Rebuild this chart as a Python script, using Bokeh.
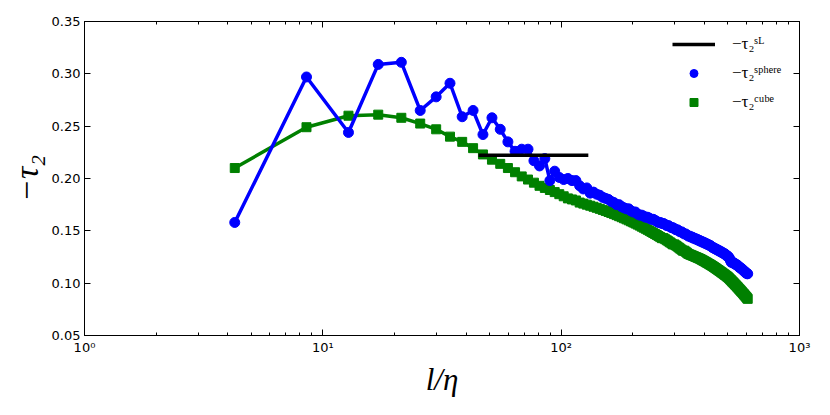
from bokeh.plotting import figure
from bokeh.models import (FixedTicker, LogAxis, LinearAxis, Legend, LegendItem,
                          PrintfTickFormatter, Range1d)
from bokeh.embed import file_html
from bokeh.resources import INLINE

# separation l/eta
l_eta = [4.27, 8.54, 12.81, 17.08, 21.35, 25.62, 29.89, 34.16, 38.43, 42.7,
         46.97, 51.24, 55.51, 59.78, 64.05, 68.32, 72.59, 76.86, 81.13, 85.4,
         89.67, 93.94, 98.21, 102.48, 106.75, 111.02, 115.29, 119.56, 123.83, 128.1,
         132.37, 136.64, 140.91, 145.18, 149.45, 153.72, 157.99, 162.26, 166.53, 170.8,
         175.07, 179.34, 183.61, 187.88, 192.15, 196.42, 200.69, 204.96, 209.23, 213.5,
         217.77, 222.04, 226.31, 230.58, 234.85, 239.12, 243.39, 247.66, 251.93, 256.2,
         260.47, 264.74, 269.01, 273.28, 277.55, 281.82, 286.09, 290.36, 294.63, 298.9,
         303.17, 307.44, 311.71, 315.98, 320.25, 324.52, 328.79, 333.06, 337.33, 341.6,
         345.87, 350.14, 354.41, 358.68, 362.95, 367.22, 371.49, 375.76, 380.03, 384.3,
         388.57, 392.84, 397.11, 401.38, 405.65, 409.92, 414.19, 418.46, 422.73, 427.0,
         431.27, 435.54, 439.81, 444.08, 448.35, 452.62, 456.89, 461.16, 465.43, 469.7,
         473.97, 478.24, 482.51, 486.78, 491.05, 495.32, 499.59, 503.86, 508.13, 512.4,
         516.67, 520.94, 525.21, 529.48, 533.75, 538.02, 542.29, 546.56, 550.83, 555.1,
         559.37, 563.64, 567.91, 572.18, 576.45, 580.72, 584.99, 589.26, 593.53, 597.8,
         602.07, 606.34]

tau_sphere = [0.158, 0.297, 0.244, 0.309, 0.311, 0.265, 0.278, 0.291, 0.259, 0.265,
              0.242, 0.258, 0.247, 0.235, 0.226, 0.228, 0.228, 0.217, 0.212, 0.219,
              0.198, 0.207, 0.201, 0.199, 0.200, 0.198, 0.198, 0.193, 0.190, 0.191,
              0.186, 0.187, 0.185, 0.184, 0.182, 0.181, 0.180, 0.178, 0.177, 0.175,
              0.175, 0.173, 0.172, 0.171, 0.171, 0.169, 0.168, 0.168, 0.166, 0.165,
              0.165, 0.164, 0.163, 0.163, 0.162, 0.161, 0.161, 0.160, 0.159, 0.158,
              0.158, 0.157, 0.157, 0.156, 0.155, 0.155, 0.154, 0.153, 0.153, 0.152,
              0.151, 0.151, 0.150, 0.149, 0.149, 0.148, 0.147, 0.147, 0.146, 0.145,
              0.145, 0.144, 0.144, 0.143, 0.143, 0.142, 0.142, 0.141, 0.141, 0.140,
              0.140, 0.139, 0.139, 0.138, 0.138, 0.137, 0.137, 0.136, 0.136, 0.135,
              0.134, 0.134, 0.133, 0.133, 0.132, 0.132, 0.131, 0.131, 0.130, 0.130,
              0.129, 0.129, 0.128, 0.128, 0.127, 0.126, 0.126, 0.125, 0.124, 0.122,
              0.120, 0.120, 0.120, 0.119, 0.119, 0.118, 0.118, 0.117, 0.117, 0.116,
              0.115, 0.115, 0.114, 0.114, 0.113, 0.112, 0.112, 0.111, 0.110, 0.110,
              0.109, 0.109]

tau_cube = [0.210, 0.249, 0.260, 0.261, 0.258, 0.2525, 0.247, 0.240, 0.235, 0.229,
            0.223, 0.218, 0.214, 0.210, 0.206, 0.202, 0.199, 0.196, 0.193, 0.191,
            0.189, 0.187, 0.185, 0.183, 0.181, 0.180, 0.179, 0.177, 0.176, 0.175,
            0.174, 0.173, 0.172, 0.171, 0.170, 0.169, 0.168, 0.167, 0.166, 0.165,
            0.164, 0.163, 0.162, 0.161, 0.160, 0.159, 0.158, 0.157, 0.156, 0.155,
            0.154, 0.153, 0.152, 0.151, 0.150, 0.149, 0.148, 0.147, 0.146, 0.145,
            0.144, 0.143, 0.143, 0.142, 0.141, 0.140, 0.139, 0.138, 0.137, 0.137,
            0.136, 0.135, 0.134, 0.133, 0.132, 0.131, 0.131, 0.130, 0.129, 0.128,
            0.1275, 0.127, 0.1265, 0.126, 0.1255, 0.125, 0.1245, 0.124, 0.1235, 0.123,
            0.1224, 0.1218, 0.1212, 0.1206, 0.120, 0.1194, 0.1188, 0.1182, 0.1176, 0.117,
            0.1164, 0.1157, 0.1151, 0.1144, 0.1138, 0.1131, 0.1125, 0.1118, 0.1112, 0.1105,
            0.1099, 0.1092, 0.1086, 0.1079, 0.1073, 0.1066, 0.106, 0.1052, 0.1044, 0.1035,
            0.1027, 0.1018, 0.101, 0.1002, 0.0993, 0.0985, 0.0977, 0.0968, 0.096, 0.0951,
            0.0943, 0.0935, 0.0926, 0.0918, 0.091, 0.0901, 0.0893, 0.0884, 0.0876, 0.0868,
            0.0859, 0.085]

sl_l = [45.0, 130.0]
sl_tau = [0.2222, 0.2222]

x_major = [1, 10, 100, 1000]
x_minor = [2, 3, 4, 5, 6, 7, 8, 9, 20, 30, 40, 50, 60, 70, 80, 90,
           200, 300, 400, 500, 600, 700, 800, 900]
x_labels = {1: "10⁰", 10: "10¹", 100: "10²", 1000: "10³"}
y_ticks = [0.05, 0.10, 0.15, 0.20, 0.25, 0.30, 0.35]

p = figure(width=814, height=399, x_axis_type="log",
           x_range=Range1d(1, 1000), y_range=Range1d(0.05, 0.35),
           output_backend="svg", toolbar_location=None,
           min_border_left=84, min_border_right=15,
           min_border_top=21, min_border_bottom=62)
p.xgrid.visible = False
p.ygrid.visible = False
p.outline_line_color = "black"
p.outline_line_width = 1
p.outline_line_alpha = 1

xt = FixedTicker(ticks=x_major, minor_ticks=x_minor)
yt = FixedTicker(ticks=y_ticks)

tick_font = "DejaVu Sans"
for ax in p.xaxis:
    ax.ticker = xt
    ax.major_label_overrides = x_labels
for ax in p.yaxis:
    ax.ticker = yt
    ax.formatter = PrintfTickFormatter(format="%.2f")

for ax in list(p.xaxis) + list(p.yaxis):
    ax.major_tick_in = 6
    ax.major_tick_out = 0
    ax.minor_tick_in = 3
    ax.minor_tick_out = 0
    ax.axis_line_color = "black"
    ax.major_tick_line_color = "black"
    ax.minor_tick_line_color = "black"
    ax.major_label_text_font = tick_font
    ax.major_label_text_font_size = "13px"
    ax.major_label_text_color = "black"
    ax.major_label_standoff = 4
    ax.axis_label_text_color = "black"
for ax in p.yaxis:
    ax.minor_tick_in = 0

p.xaxis.axis_label = "l/η"
p.xaxis.axis_label_text_font = "Liberation Serif"
p.xaxis.axis_label_text_font_style = "italic"
p.xaxis.axis_label_text_font_size = "31px"
p.xaxis.axis_label_standoff = 4

p.yaxis.axis_label = "−τ₂"
p.yaxis.axis_label_text_font = "Liberation Serif"
p.yaxis.axis_label_text_font_style = "italic"
p.yaxis.axis_label_text_font_size = "34px"
p.yaxis.axis_label_standoff = 4

top = LogAxis(ticker=xt, major_label_text_font_size="1px", major_label_text_alpha=0,
              major_label_standoff=0,
              major_tick_in=6, major_tick_out=0, minor_tick_in=3, minor_tick_out=0)
right = LinearAxis(ticker=yt, major_label_text_font_size="1px", major_label_text_alpha=0,
                   major_label_standoff=0,
                   major_tick_in=6, major_tick_out=0, minor_tick_in=0, minor_tick_out=0)
p.add_layout(top, "above")
p.add_layout(right, "right")

cube_line = p.line(l_eta, tau_cube, line_color="#008000", line_width=3.5)
cube_pts = p.scatter(l_eta, tau_cube, marker="square", size=9,
                     fill_color="#008000", line_color="#008000")
sph_line = p.line(l_eta, tau_sphere, line_color="#0000ff", line_width=3.5)
sph_pts = p.scatter(l_eta, tau_sphere, marker="circle", size=10,
                    fill_color="#0000ff", line_color="#0000ff")
sl_line = p.line(sl_l, sl_tau, line_color="black", line_width=3.5)

legend = Legend(items=[
    LegendItem(label="−τ₂ˢᴸ", renderers=[sl_line]),
    LegendItem(label="−τ₂ˢᵖʰᵉʳᵉ", renderers=[sph_pts]),
    LegendItem(label="−τ₂ᶜᵘᵇᵉ", renderers=[cube_pts]),
], location=(588, 223))
legend.border_line_alpha = 0
legend.background_fill_alpha = 0
legend.label_text_font = "Liberation Serif"
legend.label_text_font_size = "17px"
legend.label_text_color = "black"
legend.glyph_width = 43
legend.glyph_height = 20
legend.label_height = 20
legend.label_standoff = 17
legend.spacing = 9
legend.padding = 0
legend.margin = 0
p.add_layout(legend)

open("out.html", "w").write(file_html(p, INLINE))
